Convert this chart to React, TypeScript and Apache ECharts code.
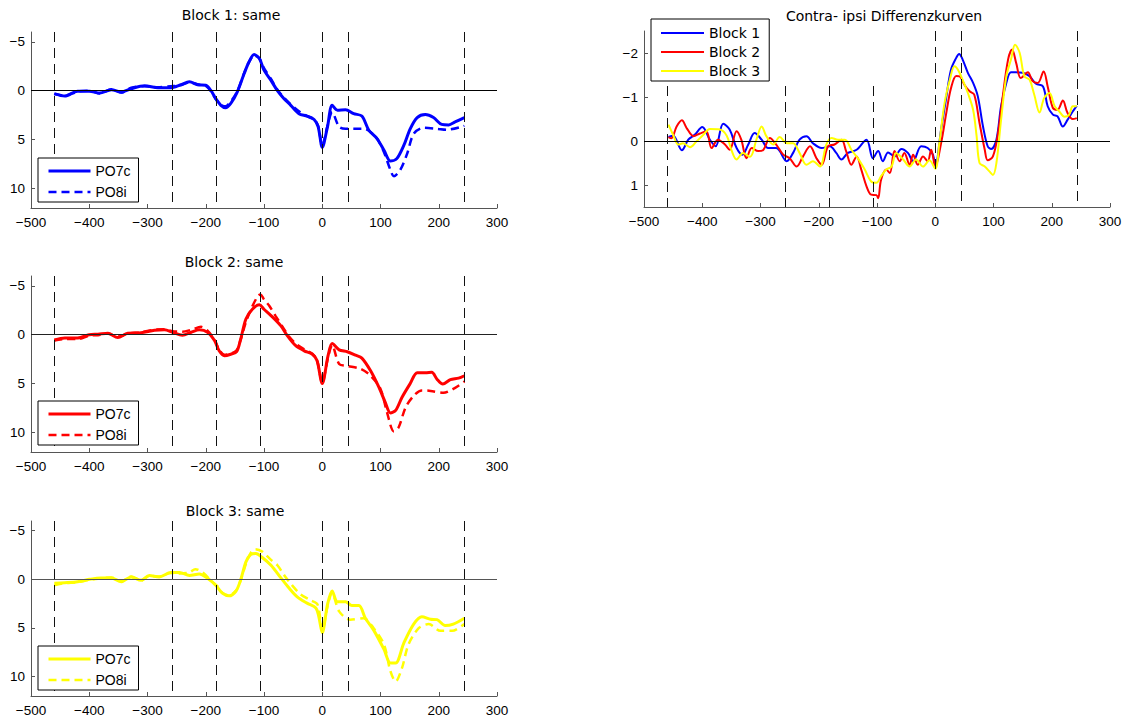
import React, { useEffect, useRef } from "react";
import * as echarts from "echarts";

type Pt = [number, number];

const markerTimes = [-460, -258, -182, -106, 0, 44, 244];
const xTickMin = -500;
const xTickMax = 300;
const leftYTicks = [-5, 0, 5, 10];
const rightYTicks = [-2, -1, 0, 1];

const block1PO7c: Pt[] = [
  [-460, 0.3], [-442, 0.55], [-420, 0.05], [-400, 0.05], [-382, 0.25], [-362, -0.1], [-345, 0.15], [-328, -0.2],
  [-305, -0.5], [-282, -0.3], [-260, -0.3], [-243, -0.6], [-228, -0.9], [-214, -0.6], [-200, -0.55], [-191, 0],
  [-183, 0.8], [-174, 1.5], [-166, 1.75], [-157, 1.3], [-146, 0.15], [-134, -1.75], [-126, -2.9], [-117, -3.7],
  [-108, -3.3], [-100, -2.1], [-88, -1.05], [-77, 0], [-66, 0.8], [-54, 1.5], [-40, 2.35], [-26, 2.6], [-14, 2.95],
  [-7, 3.7], [0, 5.8], [9, 3.7], [17, 1.5], [26, 2.0], [40, 1.95], [54, 2.35], [68, 2.6], [80, 4.05], [94, 4.9],
  [106, 6.1], [117, 7.2], [128, 6.95], [140, 5.6], [151, 3.9], [163, 2.75], [177, 2.45], [191, 2.75], [205, 3.45],
  [217, 3.5], [228, 3.2], [244, 2.75],
];
const block1PO8i: Pt[] = [
  [-460, 0.35], [-442, 0.5], [-420, 0.1], [-400, 0.0], [-382, 0.3], [-362, -0.15], [-345, 0.2], [-328, -0.3],
  [-305, -0.45], [-282, -0.35], [-260, -0.45], [-243, -0.55], [-228, -0.85], [-214, -0.65], [-200, -0.5], [-191, 0.05],
  [-183, 0.85], [-174, 1.45], [-166, 1.6], [-157, 1.1], [-146, 0.1], [-134, -1.8], [-126, -2.9], [-117, -3.6],
  [-108, -3.3], [-100, -2.3], [-88, -1.2], [-77, -0.1], [-66, 0.7], [-54, 1.4], [-40, 2.1], [-26, 2.6], [-14, 2.95],
  [-7, 3.6], [0, 5.6], [9, 3.6], [17, 2.2], [29, 3.7], [40, 3.9], [55, 3.9], [71, 3.9], [80, 4.1], [94, 4.9],
  [106, 6.3], [117, 8.1], [123, 8.75], [134, 8.1], [146, 6.4], [157, 4.4], [174, 3.8], [197, 3.9], [214, 4.0],
  [244, 3.6],
];

const block2PO7c: Pt[] = [
  [-460, 0.55], [-442, 0.35], [-420, 0.35], [-400, 0], [-385, -0.05], [-368, -0.15], [-351, 0.3], [-334, -0.15],
  [-311, -0.2], [-288, -0.45], [-271, -0.5], [-257, -0.25], [-240, 0.05], [-225, -0.25], [-211, -0.5], [-197, -0.25],
  [-185, 0.6], [-177, 1.65], [-168, 2.15], [-157, 2.0], [-147, 1.75], [-140, 0.45], [-131, -1.6], [-120, -2.6],
  [-108, -3.05], [-100, -2.6], [-88, -1.95], [-71, -0.9], [-60, 0.1], [-46, 1.1], [-31, 1.65], [-17, 2.0],
  [-9, 2.65], [0, 5.0], [10, 2.15], [17, 0.9], [29, 1.55], [43, 1.75], [57, 2.1], [68, 2.4], [83, 3.7], [97, 5.35],
  [108, 6.9], [117, 8.0], [126, 7.75], [137, 6.4], [151, 5.0], [163, 3.9], [177, 3.9], [188, 3.85], [197, 4.55],
  [207, 5.05], [220, 4.6], [234, 4.45], [244, 4.2],
];
const block2PO8i: Pt[] = [
  [-460, 0.6], [-442, 0.45], [-420, 0.45], [-400, 0.1], [-385, 0.05], [-368, -0.1], [-351, 0.2], [-334, -0.1],
  [-311, -0.25], [-288, -0.5], [-271, -0.55], [-257, -0.35], [-240, -0.3], [-225, -0.5], [-208, -0.8], [-197, -0.4],
  [-185, 0.5], [-177, 1.55], [-168, 2.05], [-157, 1.95], [-147, 1.6], [-140, 0.5], [-131, -1.3], [-120, -2.9],
  [-110, -4.0], [-106, -4.1], [-100, -3.6], [-91, -2.95], [-80, -1.9], [-68, -0.8], [-57, 0.2], [-46, 0.9],
  [-31, 1.5], [-17, 1.95], [-9, 2.6], [0, 4.9], [10, 2.3], [17, 1.1], [29, 3.0], [43, 3.2], [66, 3.5], [83, 4.2],
  [100, 5.55], [111, 7.9], [123, 9.9], [131, 9.5], [143, 7.45], [157, 6.25], [171, 5.7], [186, 5.75], [208, 5.95],
  [225, 5.55], [244, 4.8],
];

const block3PO7c: Pt[] = [
  [-460, 0.4], [-442, 0.35], [-420, 0.25], [-400, 0], [-380, -0.15], [-362, -0.15], [-345, 0.25], [-328, -0.25],
  [-311, 0.1], [-297, -0.4], [-280, -0.25], [-260, -0.7], [-245, -0.7], [-228, -0.4], [-211, -0.55], [-197, -0.1],
  [-183, 0.6], [-171, 1.45], [-160, 1.7], [-148, 1.2], [-140, 0.05], [-131, -1.8], [-123, -2.55], [-114, -2.65],
  [-103, -2.25], [-88, -1.45], [-71, -0.15], [-57, 0.9], [-43, 1.8], [-26, 2.45], [-11, 2.95], [-6, 3.8], [0, 5.5],
  [9, 2.6], [17, 1.2], [26, 2.3], [40, 2.3], [51, 2.7], [63, 2.7], [74, 4.0], [88, 5.2], [106, 7.2], [117, 8.6],
  [126, 8.6], [140, 6.55], [157, 4.6], [171, 3.85], [186, 4.1], [197, 4.15], [211, 4.75], [225, 4.6], [244, 4.0],
];
const block3PO8i: Pt[] = [
  [-460, 0.6], [-442, 0.4], [-420, 0.3], [-400, 0.05], [-380, -0.1], [-362, -0.2], [-345, 0.2], [-328, -0.3],
  [-311, 0.15], [-297, -0.35], [-280, -0.3], [-260, -0.65], [-245, -0.6], [-228, -0.7], [-218, -1.05], [-205, -0.7],
  [-190, 0.2], [-180, 0.7], [-171, 1.4], [-160, 1.65], [-148, 1.15], [-140, 0.1], [-131, -1.6], [-123, -2.7],
  [-115, -3.1], [-103, -2.85], [-88, -2.0], [-77, -1.45], [-65, -0.4], [-52, 0.6], [-38, 1.5], [-22, 2.1],
  [-8, 2.6], [0, 5.3], [9, 2.8], [17, 1.4], [29, 3.3], [48, 4.15], [71, 4.0], [88, 5.0], [106, 6.7], [117, 9.45],
  [126, 10.5], [137, 9.1], [148, 6.7], [166, 5.0], [183, 4.6], [203, 5.3], [223, 5.3], [244, 4.6],
];

const diffBlock1: Pt[] = [
  [-458, -0.09], [-450, -0.12], [-435, 0.21], [-424, -0.03], [-413, -0.14], [-400, -0.32], [-387, -0.03], [-377, 0.12],
  [-364, -0.39], [-353, -0.26], [-341, 0.16], [-331, 0.31], [-321, 0.08], [-310, -0.18], [-298, -0.03], [-287, 0.16],
  [-273, 0.16], [-255, 0.46], [-244, 0.27], [-233, -0.03], [-221, -0.11], [-210, 0.05], [-195, 0.16], [-181, 0.12],
  [-170, 0.27], [-161, 0.42], [-150, 0.27], [-135, 0.2], [-118, -0.03], [-107, 0.39], [-98, 0.23], [-90, 0.46],
  [-81, 0.26], [-70, 0.35], [-58, 0.18], [-47, 0.27], [-38, 0.46], [-24, 0.12], [-13, 0.16], [-4, 0.31], [0, 0.58],
  [10, -0.26], [19, -1.0], [27, -1.62], [36, -1.89], [41, -1.98], [47, -1.85], [56, -1.55], [65, -1.32], [73, -1.02],
  [82, -0.33], [90, 0.12], [96, 0.18], [105, -0.03], [113, -0.79], [122, -1.32], [130, -1.56], [139, -1.56],
  [150, -1.55], [162, -1.47], [173, -1.3], [185, -1.24], [193, -0.79], [202, -0.6], [210, -0.56], [219, -0.33],
  [227, -0.48], [236, -0.67], [243, -0.8],
];
const diffBlock2: Pt[] = [
  [-458, -0.09], [-453, -0.06], [-444, -0.33], [-435, -0.47], [-427, -0.3], [-415, -0.11], [-404, -0.17], [-393, -0.22],
  [-384, 0.16], [-373, -0.03], [-361, 0.08], [-353, 0.2], [-341, -0.22], [-333, -0.03], [-324, 0.39], [-315, 0.16],
  [-304, 0.23], [-295, 0.2], [-284, -0.07], [-273, 0.08], [-261, 0.31], [-250, 0.39], [-238, 0.58], [-227, 0.35],
  [-215, 0.12], [-204, 0.39], [-195, 0.54], [-184, 0.12], [-173, 0.08], [-161, -0.03], [-153, 0.23], [-144, 0.54],
  [-135, 0.35], [-127, 0.65], [-118, 1.03], [-110, 1.22], [-101, 1.23], [-98, 1.3], [-93, 0.88], [-84, 0.65],
  [-78, 0.73], [-70, 0.23], [-61, 0.46], [-53, 0.27], [-44, 0.54], [-38, 0.31], [-30, 0.54], [-21, 0.35], [-13, 0.46],
  [-7, 0.2], [0, 0.58], [10, 0.05], [19, -0.64], [27, -1.2], [36, -1.48], [42, -1.47], [50, -1.28], [59, -1.13],
  [67, -1.05], [76, -0.41], [85, 0.2], [90, 0.44], [99, 0.35], [107, -0.11], [116, -1.02], [125, -1.85], [132, -2.08],
  [139, -1.77], [147, -1.43], [159, -1.56], [167, -1.36], [176, -1.32], [186, -1.58], [193, -1.24], [202, -0.75],
  [210, -0.71], [219, -0.92], [227, -0.64], [236, -0.5], [243, -0.52],
];
const diffBlock3: Pt[] = [
  [-458, -0.37], [-450, -0.14], [-441, 0.08], [-433, 0.05], [-421, 0.14], [-410, 0.01], [-398, -0.14], [-387, -0.27],
  [-370, -0.26], [-358, -0.12], [-350, 0.2], [-341, 0.42], [-330, 0.27], [-318, 0.36], [-307, -0.03], [-298, -0.33],
  [-290, -0.11], [-278, 0.08], [-267, -0.09], [-255, 0.05], [-244, 0.05], [-233, 0.27], [-221, 0.54], [-210, 0.46],
  [-198, 0.58], [-187, 0.08], [-178, -0.07], [-167, -0.03], [-155, -0.03], [-144, 0.2], [-133, 0.39], [-121, 0.65],
  [-110, 0.92], [-101, 0.95], [-93, 0.8], [-84, 0.65], [-75, 0.58], [-67, 0.27], [-55, 0.42], [-44, 0.58],
  [-33, 0.42], [-21, 0.58], [-10, 0.44], [0, 0.63], [7, 0.05], [16, -0.86], [25, -1.39], [33, -1.7], [39, -1.62],
  [47, -1.39], [56, -1.09], [65, -0.71], [71, -0.11], [76, 0.5], [85, 0.58], [93, 0.69], [99, 0.77], [105, 0.5],
  [113, -0.48], [122, -1.47], [130, -1.85], [137, -2.19], [145, -2.0], [153, -1.47], [162, -1.39], [170, -1.05],
  [179, -0.65], [187, -0.98], [196, -1.09], [205, -0.79], [213, -0.67], [222, -0.55], [230, -0.6], [236, -0.79],
  [243, -0.79],
];

const blockTitles = ["Block 1: same", "Block 2: same", "Block 3: same"];
const diffTitle = "Contra- ipsi Differenzkurven";
const channelNames = ["PO7c", "PO8i"];
const diffNames = ["Block 1", "Block 2", "Block 3"];

const BLUE = "#0000ff";
const RED = "#ff0000";
const YELLOW = "#ffff00";

const TICK_FONT = "Liberation Sans";
const TITLE_FONT = "DejaVu Sans";

function fmtMinus(v: number) {
  return String(v).replace("-", "\u2212");
}

export default function App() {
  const ref = useRef<HTMLDivElement>(null);

  useEffect(() => {
    if (!ref.current) return;
    const chart = echarts.init(ref.current, undefined, { renderer: "svg" });

    const grids = [
      { left: 31, top: 32, width: 466, height: 176 },
      { left: 31, top: 276, width: 466, height: 176 },
      { left: 31, top: 521, width: 466, height: 175 },
      { left: 644, top: 31, width: 466, height: 176 },
    ];

    const axisLineStyle = { color: "#555", width: 1 };

    const xAxes = grids.map((_, i) => ({
      type: "value",
      gridIndex: i,
      min: xTickMin,
      max: xTickMax,
      interval: 100,
      axisLine: { show: true, onZero: false, lineStyle: axisLineStyle },
      axisTick: { show: true, inside: true, length: 4, lineStyle: axisLineStyle },
      splitLine: { show: false },
      axisLabel: {
        color: "#000",
        fontFamily: TICK_FONT,
        fontSize: 13.5,
        margin: 7,
        formatter: (v: number) => fmtMinus(v),
      },
    }));

    const yAxes = grids.map((_, i) => {
      const right = i === 3;
      const ticks = right ? rightYTicks : leftYTicks;
      return {
        type: "value",
        gridIndex: i,
        inverse: true,
        min: right ? -2.5 : -6,
        max: right ? 1.5 : 12,
        axisLine: { show: true, onZero: false, lineStyle: axisLineStyle },
        axisTick: { show: true, inside: true, length: 4, customValues: ticks, lineStyle: axisLineStyle },
        splitLine: { show: false },
        axisLabel: {
          color: "#000",
          fontFamily: TICK_FONT,
          fontSize: 13.5,
          margin: 6,
          customValues: ticks,
          formatter: (v: number) => fmtMinus(v),
        },
      };
    });

    const zeroColors = ["#000", "#222", "#555", "#000"];
    const markerStyle = { color: "#111", width: 1, type: [10, 6] as number[] };

    const leftMarkLine = (i: number) => ({
      silent: true,
      symbol: ["none", "none"],
      label: { show: false },
      animation: false,
      data: [
        { yAxis: 0, lineStyle: { type: "solid", color: zeroColors[i], width: 1 } },
        ...markerTimes.map((t) => ({ xAxis: t, lineStyle: markerStyle })),
      ],
    });

    const rightMarkLine = {
      silent: true,
      symbol: ["none", "none"],
      label: { show: false },
      animation: false,
      data: [
        { yAxis: 0, lineStyle: { type: "solid", color: "#000", width: 1 } },
        ...markerTimes.map((t) =>
          t < 0
            ? [
                { coord: [t, -1.25], lineStyle: markerStyle },
                { coord: [t, 1.5] },
              ]
            : { xAxis: t, lineStyle: markerStyle }
        ),
      ],
    };

    const blocks = [
      { solid: block1PO7c, dashed: block1PO8i, color: BLUE },
      { solid: block2PO7c, dashed: block2PO8i, color: RED },
      { solid: block3PO7c, dashed: block3PO8i, color: YELLOW },
    ];

    const series: any[] = [];
    blocks.forEach((b, i) => {
      series.push({
        type: "line",
        name: `${channelNames[0]} ${i + 1}`,
        xAxisIndex: i,
        yAxisIndex: i,
        data: b.solid,
        symbol: "none",
        smooth: 0.3,
        lineStyle: { color: b.color, width: 3 },
        itemStyle: { color: b.color },
        markLine: leftMarkLine(i),
        z: 3,
      });
      series.push({
        type: "line",
        name: `${channelNames[1]} ${i + 1}`,
        xAxisIndex: i,
        yAxisIndex: i,
        data: b.dashed,
        symbol: "none",
        smooth: 0.3,
        lineStyle: { color: b.color, width: 2.5, type: [8, 5] },
        itemStyle: { color: b.color },
        z: 3,
      });
    });

    const diffs = [
      { data: diffBlock1, color: BLUE },
      { data: diffBlock2, color: RED },
      { data: diffBlock3, color: YELLOW },
    ];
    diffs.forEach((d, k) => {
      series.push({
        type: "line",
        name: diffNames[k],
        xAxisIndex: 3,
        yAxisIndex: 3,
        data: d.data,
        symbol: "none",
        smooth: 0.35,
        lineStyle: { color: d.color, width: 2 },
        itemStyle: { color: d.color },
        markLine: k === 0 ? rightMarkLine : undefined,
        z: 3,
      });
    });

    const legendTops = [158, 401, 646];
    const legends: any[] = legendTops.map((top, i) => ({
      orient: "vertical",
      left: 38,
      top,
      data: [
        { name: `${channelNames[0]} ${i + 1}`, lineStyle: { width: 3 } },
        { name: `${channelNames[1]} ${i + 1}`, lineStyle: { width: 2.5 } },
      ],
      formatter: (name: string) => name.split(" ")[0],
      itemWidth: 42,
      itemHeight: 14,
      itemGap: 7,
      padding: [6, 8, 3, 9],
      borderColor: "#000",
      borderWidth: 1,
      borderRadius: 0,
      backgroundColor: "#fff",
      selectedMode: false,
      itemStyle: { opacity: 0 },
      textStyle: { fontFamily: TICK_FONT, fontSize: 14, color: "#000" },
      z: 10,
    }));
    legends.push({
      orient: "vertical",
      left: 651,
      top: 19,
      data: diffNames,
      itemWidth: 43,
      itemHeight: 14,
      itemGap: 5,
      padding: [7, 9, 3, 9],
      borderColor: "#000",
      borderWidth: 1,
      borderRadius: 0,
      backgroundColor: "#fff",
      selectedMode: false,
      itemStyle: { opacity: 0 },
      lineStyle: { width: 2 },
      textStyle: { fontFamily: TITLE_FONT, fontSize: 14, color: "#000" },
      z: 10,
    });

    const titlePos = [
      { x: 231, y: 15 },
      { x: 234, y: 262 },
      { x: 235, y: 511 },
    ];
    const graphic: any[] = blockTitles.map((t, i) => ({
      type: "text",
      x: titlePos[i].x,
      y: titlePos[i].y,
      silent: true,
      style: {
        text: t,
        textAlign: "center",
        textVerticalAlign: "middle",
        font: `14px "${TITLE_FONT}"`,
        fill: "#000",
      },
    }));
    graphic.push({
      type: "text",
      x: 884,
      y: 16,
      silent: true,
      style: {
        text: diffTitle,
        textAlign: "center",
        textVerticalAlign: "middle",
        font: `14px "${TITLE_FONT}"`,
        fill: "#000",
      },
    });

    chart.setOption({
      animation: false,
      backgroundColor: "#fff",
      grid: grids,
      xAxis: xAxes,
      yAxis: yAxes,
      legend: legends,
      series,
      graphic,
    });

    return () => chart.dispose();
  }, []);

  return (
    <div
      ref={ref}
      style={{ position: "fixed", left: 0, top: 0, width: 1131, height: 722, background: "#fff" }}
    />
  );
}
